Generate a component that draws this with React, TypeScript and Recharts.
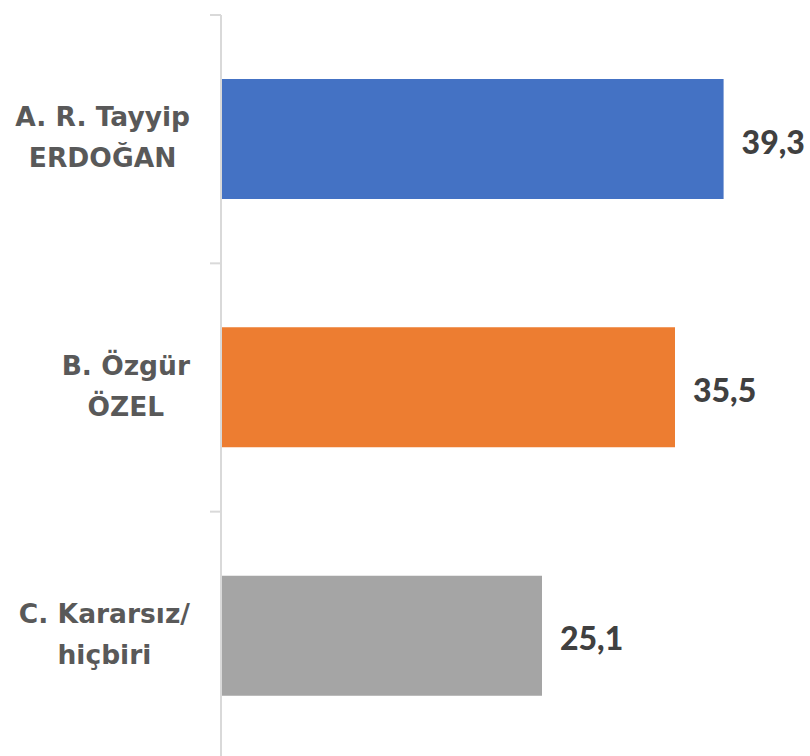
import React from "react";
import { BarChart, Bar, XAxis, YAxis, Cell, LabelList } from "recharts";

const categories = ["A. R. Tayyip\nERDOĞAN", "B. Özgür\nÖZEL", "C. Kararsız/\nhiçbiri"];
const values = [39.3, 35.5, 25.1];
const colors = ["#4472C4", "#ED7D31", "#A5A5A5"];

const data = categories.map((name, i) => ({ name, value: values[i] }));

const W = 810;
const H = 760;
const MARGIN = { top: 15, right: 2, left: 0, bottom: 0 };
const AXIS_W = 221;
const BAND = (H - MARGIN.top - MARGIN.bottom) / categories.length;
const LABEL_FONT = "bold 26.5px 'DejaVu Sans'";
const LABEL_RIGHT = 190;

let ctx: CanvasRenderingContext2D | null = null;
function measure(t: string): number {
  if (!ctx) {
    const c = document.createElement("canvas");
    ctx = c.getContext("2d");
  }
  if (!ctx) return t.length * 14;
  ctx.font = LABEL_FONT;
  return ctx.measureText(t).width;
}

const CatTick = (props: any) => {
  const { y, payload } = props;
  const lines = String(payload.value).split("\n");
  const maxW = Math.max(...lines.map(measure));
  const cx = LABEL_RIGHT - maxW / 2;
  const lh = 41;
  const startY = y - 2 - ((lines.length - 1) * lh) / 2;
  return (
    <g>
      <line x1={AXIS_W - 11} x2={AXIS_W} y1={y - BAND / 2} y2={y - BAND / 2} stroke="#d9d9d9" strokeWidth={2} />
      {lines.map((l, i) => (
        <text
          key={i}
          x={cx}
          y={startY + i * lh}
          textAnchor="middle"
          dominantBaseline="central"
          fill="#595959"
          style={{ font: LABEL_FONT }}
        >
          {l}
        </text>
      ))}
    </g>
  );
};

const ValueLabel = (props: any) => {
  const { x, y, width, height, value } = props;
  return (
    <text
      x={x + width + 18}
      y={y + height / 2 + 2}
      dominantBaseline="central"
      fill="#404040"
      style={{ font: "900 32px Lato" }}
    >
      {Number(value).toFixed(1).replace(".", ",")}
    </text>
  );
};

export default function App() {
  return (
    <div style={{ position: "absolute", left: 0, top: 0, background: "#fff" }}>
      <BarChart width={W} height={H} data={data} layout="vertical" margin={MARGIN}>
        <XAxis type="number" domain={[0, 45.9]} hide />
        <YAxis
          type="category"
          dataKey="name"
          width={AXIS_W}
          axisLine={{ stroke: "#d9d9d9", strokeWidth: 2 }}
          tickLine={false}
          tick={<CatTick />}
          interval={0}
        />
        <Bar dataKey="value" barSize={120} isAnimationActive={false}>
          {data.map((d, i) => (
            <Cell key={i} fill={colors[i]} />
          ))}
          <LabelList dataKey="value" content={<ValueLabel />} />
        </Bar>
      </BarChart>
    </div>
  );
}
